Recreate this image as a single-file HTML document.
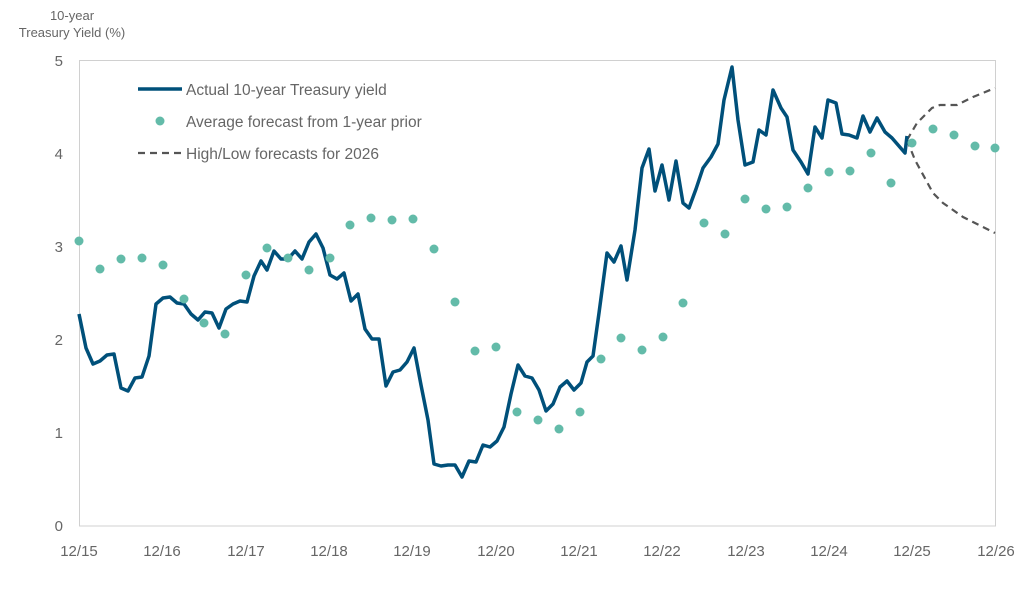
<!DOCTYPE html>
<html><head><meta charset="utf-8"><style>
body{margin:0;background:#fff;}
svg{display:block;font-family:"Liberation Sans",sans-serif;}
</style></head><body>
<svg width="1024" height="616" viewBox="0 0 1024 616">
<rect x="79.5" y="60.5" width="916" height="465.5" fill="none" stroke="#d0d0d0" stroke-width="1"/>
<g fill="#666" font-size="13" text-anchor="middle">
<text x="72" y="20">10-year</text>
<text x="72" y="37">Treasury Yield (%)</text>
</g>
<g fill="#666" font-size="15" text-anchor="end">
<text x="63" y="66">5</text><text x="63" y="159">4</text><text x="63" y="252">3</text>
<text x="63" y="345">2</text><text x="63" y="438">1</text><text x="63" y="531">0</text>
</g>
<g fill="#666" font-size="15" text-anchor="middle">
<text x="79" y="556">12/15</text><text x="162" y="556">12/16</text><text x="246" y="556">12/17</text>
<text x="329" y="556">12/18</text><text x="412" y="556">12/19</text><text x="496" y="556">12/20</text>
<text x="579" y="556">12/21</text><text x="662" y="556">12/22</text><text x="746" y="556">12/23</text>
<text x="829" y="556">12/24</text><text x="912" y="556">12/25</text><text x="996" y="556">12/26</text>
</g>
<polyline fill="none" stroke="#555" stroke-width="2.2" stroke-dasharray="7,5" points="907,140 917,123 932,108 940,105 957,105 973,97 995,88"/>
<polyline fill="none" stroke="#555" stroke-width="2.2" stroke-dasharray="7,5" points="907,140 915,160 933,193 943,203 963,217 995,233"/>
<polyline fill="none" stroke="#00507a" stroke-width="3.5" stroke-linejoin="round" points="79,314 86,348 93,364 100,361 107,355 114,354 121,388 128,391 135,378 142,377 149,356 156,304 163,298 170,297 177,303 184,304 191,314 198,320 205,312 212,313 219,328 226,309 233,304 240,301 247,302 254,276 261,261 267,270 274,251 281,259 288,259 295,251 302,259 309,242 316,234 323,248 330,275 337,279 344,273 351,301 358,294 365,329 372,339 379,339 386,386 393,372 400,370 407,362 414,348 421,385 428,420 434,464 441,466 448,465 455,465 462,477 469,461 476,462 483,445 490,447 497,441 504,427 511,394 518,365 525,376 532,378 539,390 546,411 553,404 560,387 567,381 574,390 581,383 587,362 593,356 599,313 607,253 614,262 621,246 627,280 635,230 642,168 649,149 655,191 662,165 669,200 676,161 683,203 689,208 696,189 703,168 711,157 718,144 724,100 732,67 738,120 745,165 753,162 759,130 766,135 773,90 781,108 787,117 793,150 801,162 808,174 815,127 822,138 828,100 836,103 842,134 849,135 857,138 863,116 870,132 877,118 885,132 892,138 905,153 907,136"/>
<g fill="#63bba9">
<circle cx="79" cy="241" r="4.5"/><circle cx="100" cy="269" r="4.5"/><circle cx="121" cy="259" r="4.5"/><circle cx="142" cy="258" r="4.5"/><circle cx="163" cy="265" r="4.5"/><circle cx="184" cy="299" r="4.5"/><circle cx="204" cy="323" r="4.5"/><circle cx="225" cy="334" r="4.5"/><circle cx="246" cy="275" r="4.5"/><circle cx="267" cy="248" r="4.5"/><circle cx="288" cy="258" r="4.5"/><circle cx="309" cy="270" r="4.5"/><circle cx="330" cy="258" r="4.5"/><circle cx="350" cy="225" r="4.5"/><circle cx="371" cy="218" r="4.5"/><circle cx="392" cy="220" r="4.5"/><circle cx="413" cy="219" r="4.5"/><circle cx="434" cy="249" r="4.5"/><circle cx="455" cy="302" r="4.5"/><circle cx="475" cy="351" r="4.5"/><circle cx="496" cy="347" r="4.5"/><circle cx="517" cy="412" r="4.5"/><circle cx="538" cy="420" r="4.5"/><circle cx="559" cy="429" r="4.5"/><circle cx="580" cy="412" r="4.5"/><circle cx="601" cy="359" r="4.5"/><circle cx="621" cy="338" r="4.5"/><circle cx="642" cy="350" r="4.5"/><circle cx="663" cy="337" r="4.5"/><circle cx="683" cy="303" r="4.5"/><circle cx="704" cy="223" r="4.5"/><circle cx="725" cy="234" r="4.5"/><circle cx="745" cy="199" r="4.5"/><circle cx="766" cy="209" r="4.5"/><circle cx="787" cy="207" r="4.5"/><circle cx="808" cy="188" r="4.5"/><circle cx="829" cy="172" r="4.5"/><circle cx="850" cy="171" r="4.5"/><circle cx="871" cy="153" r="4.5"/><circle cx="891" cy="183" r="4.5"/><circle cx="912" cy="143" r="4.5"/><circle cx="933" cy="129" r="4.5"/><circle cx="954" cy="135" r="4.5"/><circle cx="975" cy="146" r="4.5"/><circle cx="995" cy="148" r="4.5"/>
</g>
<line x1="138" y1="89" x2="182" y2="89" stroke="#00507a" stroke-width="3.5"/>
<circle cx="160" cy="121" r="4.5" fill="#63bba9"/>
<line x1="138" y1="153" x2="182" y2="153" stroke="#555" stroke-width="2.2" stroke-dasharray="7,5"/>
<g fill="#666" font-size="15.5">
<text x="186" y="95">Actual 10-year Treasury yield</text>
<text x="186" y="127">Average forecast from 1-year prior</text>
<text x="186" y="159">High/Low forecasts for 2026</text>
</g>
</svg>
</body></html>
